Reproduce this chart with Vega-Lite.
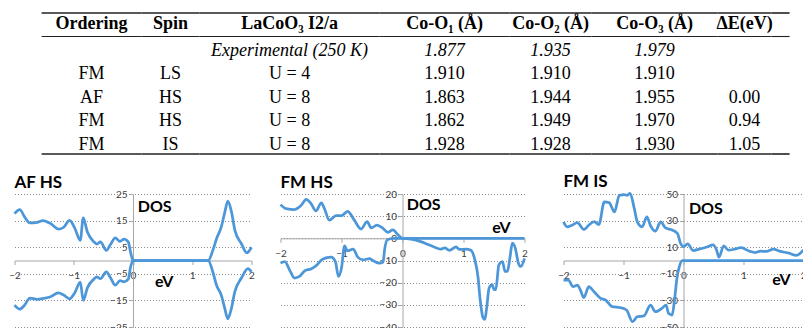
{
  "$schema": "https://vega.github.io/schema/vega-lite/v6.json",
  "padding": {"left": 8.5, "top": 12, "right": 0, "bottom": 0},
  "background": "white",
  "datasets": {
    "table": [
      {"row": "head", "ordering": "Ordering", "spin": "Spin", "method": "LaCoO₃ I2/a", "co1": "Co-O₁ (Å)", "co2": "Co-O₂ (Å)", "co3": "Co-O₃ (Å)", "dE": "ΔE(eV)"},
      {"row": "exp", "ordering": "", "spin": "", "method": "Experimental (250 K)", "co1": "1.877", "co2": "1.935", "co3": "1.979", "dE": ""},
      {"row": "r1", "ordering": "FM", "spin": "LS", "method": "U = 4", "co1": "1.910", "co2": "1.910", "co3": "1.910", "dE": ""},
      {"row": "r2", "ordering": "AF", "spin": "HS", "method": "U = 8", "co1": "1.863", "co2": "1.944", "co3": "1.955", "dE": "0.00"},
      {"row": "r3", "ordering": "FM", "spin": "HS", "method": "U = 8", "co1": "1.862", "co2": "1.949", "co3": "1.970", "dE": "0.94"},
      {"row": "r4", "ordering": "FM", "spin": "IS", "method": "U = 8", "co1": "1.928", "co2": "1.928", "co3": "1.930", "dE": "1.05"}
    ],
    "afhs": [
      {"E": -2, "DOS": 17.6, "spin": "up"}, {"E": -1.91, "DOS": 19.1, "spin": "up"}, {"E": -1.83, "DOS": 16.4, "spin": "up"},
      {"E": -1.74, "DOS": 14.1, "spin": "up"}, {"E": -1.62, "DOS": 14.3, "spin": "up"}, {"E": -1.52, "DOS": 15.0, "spin": "up"},
      {"E": -1.4, "DOS": 14.0, "spin": "up"}, {"E": -1.25, "DOS": 11.8, "spin": "up"}, {"E": -1.17, "DOS": 12.5, "spin": "up"},
      {"E": -1.07, "DOS": 15.1, "spin": "up"}, {"E": -0.98, "DOS": 12.0, "spin": "up"}, {"E": -0.89, "DOS": 7.6, "spin": "up"},
      {"E": -0.84, "DOS": 16.0, "spin": "up"}, {"E": -0.77, "DOS": 10.7, "spin": "up"}, {"E": -0.66, "DOS": 7.0, "spin": "up"},
      {"E": -0.61, "DOS": 6.2, "spin": "up"}, {"E": -0.55, "DOS": 7.0, "spin": "up"}, {"E": -0.45, "DOS": 3.8, "spin": "up"},
      {"E": -0.38, "DOS": 6.0, "spin": "up"}, {"E": -0.3, "DOS": 8.5, "spin": "up"}, {"E": -0.22, "DOS": 7.2, "spin": "up"},
      {"E": -0.15, "DOS": 8.0, "spin": "up"}, {"E": -0.08, "DOS": 7.0, "spin": "up"}, {"E": -0.04, "DOS": 3.0, "spin": "up"},
      {"E": 0, "DOS": 0, "spin": "up"}, {"E": 0.6, "DOS": 0, "spin": "up"}, {"E": 1.27, "DOS": 0, "spin": "up"},
      {"E": 1.35, "DOS": 4.0, "spin": "up"}, {"E": 1.41, "DOS": 8.2, "spin": "up"}, {"E": 1.49, "DOS": 12.6, "spin": "up"},
      {"E": 1.55, "DOS": 18.2, "spin": "up"}, {"E": 1.6, "DOS": 22.3, "spin": "up"}, {"E": 1.66, "DOS": 18.5, "spin": "up"},
      {"E": 1.72, "DOS": 11.3, "spin": "up"}, {"E": 1.83, "DOS": 6.3, "spin": "up"}, {"E": 1.92, "DOS": 2.9, "spin": "up"},
      {"E": 2, "DOS": 5.0, "spin": "up"},
      {"E": -2, "DOS": -16.8, "spin": "down"}, {"E": -1.91, "DOS": -18.3, "spin": "down"}, {"E": -1.83, "DOS": -16.8, "spin": "down"},
      {"E": -1.74, "DOS": -14.1, "spin": "down"}, {"E": -1.62, "DOS": -14.6, "spin": "down"}, {"E": -1.5, "DOS": -14.2, "spin": "down"},
      {"E": -1.4, "DOS": -13.7, "spin": "down"}, {"E": -1.26, "DOS": -12.2, "spin": "down"}, {"E": -1.17, "DOS": -13.0, "spin": "down"},
      {"E": -1.07, "DOS": -14.4, "spin": "down"}, {"E": -0.98, "DOS": -12.0, "spin": "down"}, {"E": -0.89, "DOS": -8.1, "spin": "down"},
      {"E": -0.84, "DOS": -15.0, "spin": "down"}, {"E": -0.77, "DOS": -10.3, "spin": "down"}, {"E": -0.66, "DOS": -7.0, "spin": "down"},
      {"E": -0.61, "DOS": -6.2, "spin": "down"}, {"E": -0.55, "DOS": -6.8, "spin": "down"}, {"E": -0.45, "DOS": -4.3, "spin": "down"},
      {"E": -0.38, "DOS": -6.5, "spin": "down"}, {"E": -0.3, "DOS": -9.3, "spin": "down"}, {"E": -0.22, "DOS": -7.6, "spin": "down"},
      {"E": -0.15, "DOS": -8.0, "spin": "down"}, {"E": -0.08, "DOS": -7.0, "spin": "down"}, {"E": -0.04, "DOS": -2.4, "spin": "down"},
      {"E": 0, "DOS": 0, "spin": "down"}, {"E": 0.6, "DOS": 0, "spin": "down"}, {"E": 1.27, "DOS": 0, "spin": "down"},
      {"E": 1.35, "DOS": -4.5, "spin": "down"}, {"E": 1.41, "DOS": -9.3, "spin": "down"}, {"E": 1.49, "DOS": -13.0, "spin": "down"},
      {"E": 1.55, "DOS": -18.1, "spin": "down"}, {"E": 1.6, "DOS": -21.9, "spin": "down"}, {"E": 1.66, "DOS": -18.1, "spin": "down"},
      {"E": 1.72, "DOS": -11.6, "spin": "down"}, {"E": 1.83, "DOS": -6.6, "spin": "down"}, {"E": 1.94, "DOS": -3.1, "spin": "down"},
      {"E": 2, "DOS": -4.3, "spin": "down"}
    ],
    "fmhs": [
      {"E": -2, "DOS": 15.2, "spin": "up"}, {"E": -1.91, "DOS": 13.4, "spin": "up"}, {"E": -1.77, "DOS": 13.0, "spin": "up"},
      {"E": -1.66, "DOS": 14.9, "spin": "up"}, {"E": -1.58, "DOS": 17.6, "spin": "up"}, {"E": -1.5, "DOS": 15.7, "spin": "up"},
      {"E": -1.42, "DOS": 12.4, "spin": "up"}, {"E": -1.33, "DOS": 16.0, "spin": "up"}, {"E": -1.28, "DOS": 13.4, "spin": "up"},
      {"E": -1.2, "DOS": 8.2, "spin": "up"}, {"E": -1.09, "DOS": 10.2, "spin": "up"}, {"E": -1.0, "DOS": 10.2, "spin": "up"},
      {"E": -0.9, "DOS": 12.2, "spin": "up"}, {"E": -0.79, "DOS": 8.2, "spin": "up"}, {"E": -0.68, "DOS": 4.2, "spin": "up"},
      {"E": -0.58, "DOS": 7.5, "spin": "up"}, {"E": -0.51, "DOS": 4.7, "spin": "up"}, {"E": -0.42, "DOS": 6.0, "spin": "up"},
      {"E": -0.32, "DOS": 4.5, "spin": "up"}, {"E": -0.24, "DOS": 2.7, "spin": "up"}, {"E": -0.16, "DOS": 3.8, "spin": "up"},
      {"E": -0.07, "DOS": 1.5, "spin": "up"}, {"E": 0, "DOS": 0, "spin": "up"}, {"E": 1, "DOS": 0, "spin": "up"},
      {"E": 2, "DOS": 0, "spin": "up"},
      {"E": -2, "DOS": -11.2, "spin": "down"}, {"E": -1.93, "DOS": -10.5, "spin": "down"}, {"E": -1.84, "DOS": -14.9, "spin": "down"},
      {"E": -1.77, "DOS": -17.9, "spin": "down"}, {"E": -1.69, "DOS": -17.2, "spin": "down"}, {"E": -1.6, "DOS": -14.6, "spin": "down"},
      {"E": -1.5, "DOS": -13.8, "spin": "down"}, {"E": -1.42, "DOS": -12.4, "spin": "down"}, {"E": -1.31, "DOS": -9.4, "spin": "down"},
      {"E": -1.17, "DOS": -8.5, "spin": "down"}, {"E": -1.1, "DOS": -10.5, "spin": "down"}, {"E": -1.05, "DOS": -17.2, "spin": "down"},
      {"E": -1.0, "DOS": -13.4, "spin": "down"}, {"E": -0.95, "DOS": -3.4, "spin": "down"}, {"E": -0.9, "DOS": -5.7, "spin": "down"},
      {"E": -0.81, "DOS": -4.9, "spin": "down"}, {"E": -0.73, "DOS": -8.6, "spin": "down"}, {"E": -0.65, "DOS": -9.7, "spin": "down"},
      {"E": -0.54, "DOS": -9.2, "spin": "down"}, {"E": -0.48, "DOS": -10.1, "spin": "down"}, {"E": -0.38, "DOS": -11.2, "spin": "down"},
      {"E": -0.32, "DOS": -10.8, "spin": "down"}, {"E": -0.29, "DOS": -4.5, "spin": "down"}, {"E": -0.25, "DOS": -0.7, "spin": "down"},
      {"E": -0.15, "DOS": 0, "spin": "down"}, {"E": 0, "DOS": 0, "spin": "down"}, {"E": 0.14, "DOS": -0.4, "spin": "down"},
      {"E": 0.3, "DOS": -1.5, "spin": "down"}, {"E": 0.42, "DOS": -2.8, "spin": "down"}, {"E": 0.5, "DOS": -3.7, "spin": "down"},
      {"E": 0.63, "DOS": -4.9, "spin": "down"}, {"E": 0.69, "DOS": -4.3, "spin": "down"}, {"E": 0.77, "DOS": -5.4, "spin": "down"},
      {"E": 0.88, "DOS": -3.9, "spin": "down"}, {"E": 0.93, "DOS": -5.0, "spin": "down"}, {"E": 1.04, "DOS": -4.9, "spin": "down"},
      {"E": 1.12, "DOS": -5.4, "spin": "down"}, {"E": 1.18, "DOS": -9.0, "spin": "down"}, {"E": 1.24, "DOS": -17.9, "spin": "down"},
      {"E": 1.27, "DOS": -26.9, "spin": "down"}, {"E": 1.32, "DOS": -35.8, "spin": "down"}, {"E": 1.35, "DOS": -36.6, "spin": "down"},
      {"E": 1.38, "DOS": -31.3, "spin": "down"}, {"E": 1.42, "DOS": -22.4, "spin": "down"}, {"E": 1.47, "DOS": -20.9, "spin": "down"},
      {"E": 1.5, "DOS": -23.1, "spin": "down"}, {"E": 1.53, "DOS": -23.0, "spin": "down"}, {"E": 1.58, "DOS": -11.9, "spin": "down"},
      {"E": 1.64, "DOS": -10.5, "spin": "down"}, {"E": 1.68, "DOS": -14.9, "spin": "down"}, {"E": 1.72, "DOS": -14.9, "spin": "down"},
      {"E": 1.76, "DOS": -9.0, "spin": "down"}, {"E": 1.8, "DOS": -2.2, "spin": "down"}, {"E": 1.85, "DOS": -4.5, "spin": "down"},
      {"E": 1.9, "DOS": -11.2, "spin": "down"}, {"E": 1.94, "DOS": -12.7, "spin": "down"}, {"E": 2, "DOS": -9.0, "spin": "down"}
    ],
    "fmis": [
      {"E": -2, "DOS": 29, "spin": "up"}, {"E": -1.94, "DOS": 25.3, "spin": "up"}, {"E": -1.86, "DOS": 26.5, "spin": "up"},
      {"E": -1.77, "DOS": 28.5, "spin": "up"}, {"E": -1.66, "DOS": 23.3, "spin": "up"}, {"E": -1.58, "DOS": 26.5, "spin": "up"},
      {"E": -1.49, "DOS": 29.2, "spin": "up"}, {"E": -1.41, "DOS": 27, "spin": "up"}, {"E": -1.32, "DOS": 44, "spin": "up"},
      {"E": -1.24, "DOS": 43.5, "spin": "up"}, {"E": -1.15, "DOS": 36.5, "spin": "up"}, {"E": -1.07, "DOS": 49, "spin": "up"},
      {"E": -0.99, "DOS": 49.5, "spin": "up"}, {"E": -0.94, "DOS": 49, "spin": "up"}, {"E": -0.89, "DOS": 50.5, "spin": "up"},
      {"E": -0.82, "DOS": 39, "spin": "up"}, {"E": -0.77, "DOS": 29, "spin": "up"}, {"E": -0.69, "DOS": 25.3, "spin": "up"},
      {"E": -0.61, "DOS": 32.8, "spin": "up"}, {"E": -0.55, "DOS": 26.2, "spin": "up"}, {"E": -0.47, "DOS": 22, "spin": "up"},
      {"E": -0.38, "DOS": 29, "spin": "up"}, {"E": -0.3, "DOS": 24.5, "spin": "up"}, {"E": -0.19, "DOS": 23, "spin": "up"},
      {"E": -0.1, "DOS": 20.3, "spin": "up"}, {"E": -0.05, "DOS": 13, "spin": "up"}, {"E": 0, "DOS": 10.5, "spin": "up"},
      {"E": 0.07, "DOS": 12.5, "spin": "up"}, {"E": 0.16, "DOS": 7.5, "spin": "up"}, {"E": 0.26, "DOS": 8.5, "spin": "up"},
      {"E": 0.4, "DOS": 10.3, "spin": "up"}, {"E": 0.49, "DOS": 11.8, "spin": "up"}, {"E": 0.55, "DOS": 8, "spin": "up"},
      {"E": 0.59, "DOS": 2.5, "spin": "up"}, {"E": 0.67, "DOS": 11, "spin": "up"}, {"E": 0.75, "DOS": 7.8, "spin": "up"},
      {"E": 0.85, "DOS": 8.5, "spin": "up"}, {"E": 0.96, "DOS": 9.6, "spin": "up"}, {"E": 1.1, "DOS": 7, "spin": "up"},
      {"E": 1.2, "DOS": 6, "spin": "up"}, {"E": 1.28, "DOS": 7, "spin": "up"}, {"E": 1.38, "DOS": 6.8, "spin": "up"},
      {"E": 1.5, "DOS": 8.5, "spin": "up"}, {"E": 1.6, "DOS": 7, "spin": "up"}, {"E": 1.76, "DOS": 5.5, "spin": "up"},
      {"E": 1.88, "DOS": 3.8, "spin": "up"}, {"E": 2, "DOS": 8, "spin": "up"},
      {"E": -2, "DOS": -14.7, "spin": "down"}, {"E": -1.92, "DOS": -14.7, "spin": "down"}, {"E": -1.84, "DOS": -19.7, "spin": "down"},
      {"E": -1.77, "DOS": -18.5, "spin": "down"}, {"E": -1.72, "DOS": -22, "spin": "down"}, {"E": -1.66, "DOS": -28, "spin": "down"},
      {"E": -1.58, "DOS": -19.7, "spin": "down"}, {"E": -1.49, "DOS": -23.5, "spin": "down"}, {"E": -1.38, "DOS": -28.5, "spin": "down"},
      {"E": -1.3, "DOS": -29.7, "spin": "down"}, {"E": -1.19, "DOS": -34.7, "spin": "down"}, {"E": -1.05, "DOS": -35.5, "spin": "down"},
      {"E": -0.95, "DOS": -37.2, "spin": "down"}, {"E": -0.85, "DOS": -46, "spin": "down"}, {"E": -0.77, "DOS": -42.2, "spin": "down"},
      {"E": -0.66, "DOS": -41.7, "spin": "down"}, {"E": -0.55, "DOS": -33.5, "spin": "down"}, {"E": -0.47, "DOS": -38.5, "spin": "down"},
      {"E": -0.36, "DOS": -36, "spin": "down"}, {"E": -0.29, "DOS": -33.5, "spin": "down"}, {"E": -0.25, "DOS": -39.7, "spin": "down"},
      {"E": -0.19, "DOS": -41, "spin": "down"}, {"E": -0.15, "DOS": -29.7, "spin": "down"}, {"E": -0.11, "DOS": -13.5, "spin": "down"},
      {"E": -0.07, "DOS": -4.7, "spin": "down"}, {"E": -0.02, "DOS": 0, "spin": "down"}, {"E": 1, "DOS": 0, "spin": "down"},
      {"E": 2, "DOS": 0, "spin": "down"}
    ]
  },
  "spacing": 17,
  "center": true,
  "vconcat": [
    {
      "bounds": "flush",
      "spacing": 0,
      "hconcat": [
        {
          "width": 100, "height": 141, "data": {"name": "table"},
          "layer": [
            {"transform": [{"filter": "datum.row === 'head'"}], "mark": {"type": "text", "font": "Liberation Serif", "fontSize": 18, "fontWeight": "bold", "color": "#000"},
             "encoding": {"y": {"field": "row", "type": "nominal", "bandPosition": 0.45, "scale": {"type": "band", "domain": ["head", "exp", "r1", "r2", "r3", "r4"], "paddingInner": 0, "paddingOuter": 0}, "axis": null}, "text": {"field": "ordering"}}},
            {"transform": [{"filter": "datum.row !== 'head'"}], "mark": {"type": "text", "font": "Liberation Serif", "fontSize": 18, "color": "#000"},
             "encoding": {"y": {"field": "row", "type": "nominal", "bandPosition": 0.6, "axis": null}, "text": {"field": "ordering"}}},
            {"transform": [{"filter": "datum.row === 'head'"}], "mark": {"type": "rule", "strokeWidth": 1.6, "color": "#222"}, "encoding": {"y": {"field": "row", "type": "nominal", "bandPosition": 0, "axis": null}}},
            {"transform": [{"filter": "datum.row === 'head'"}], "mark": {"type": "rule", "strokeWidth": 1.1, "color": "#222"}, "encoding": {"y": {"field": "row", "type": "nominal", "bandPosition": 1, "axis": null}}},
            {"transform": [{"filter": "datum.row === 'r4'"}], "mark": {"type": "rule", "strokeWidth": 1.6, "color": "#222"}, "encoding": {"y": {"field": "row", "type": "nominal", "bandPosition": 1, "axis": null}}}
          ]
        },
        {
          "width": 58, "height": 141, "data": {"name": "table"},
          "layer": [
            {"transform": [{"filter": "datum.row === 'head'"}], "mark": {"type": "text", "font": "Liberation Serif", "fontSize": 18, "fontWeight": "bold", "color": "#000"},
             "encoding": {"y": {"field": "row", "type": "nominal", "bandPosition": 0.45, "scale": {"type": "band", "domain": ["head", "exp", "r1", "r2", "r3", "r4"], "paddingInner": 0, "paddingOuter": 0}, "axis": null}, "text": {"field": "spin"}}},
            {"transform": [{"filter": "datum.row !== 'head'"}], "mark": {"type": "text", "font": "Liberation Serif", "fontSize": 18, "color": "#000"},
             "encoding": {"y": {"field": "row", "type": "nominal", "bandPosition": 0.6, "axis": null}, "text": {"field": "spin"}}},
            {"transform": [{"filter": "datum.row === 'head'"}], "mark": {"type": "rule", "strokeWidth": 1.6, "color": "#222"}, "encoding": {"y": {"field": "row", "type": "nominal", "bandPosition": 0, "axis": null}}},
            {"transform": [{"filter": "datum.row === 'head'"}], "mark": {"type": "rule", "strokeWidth": 1.1, "color": "#222"}, "encoding": {"y": {"field": "row", "type": "nominal", "bandPosition": 1, "axis": null}}},
            {"transform": [{"filter": "datum.row === 'r4'"}], "mark": {"type": "rule", "strokeWidth": 1.6, "color": "#222"}, "encoding": {"y": {"field": "row", "type": "nominal", "bandPosition": 1, "axis": null}}}
          ]
        },
        {
          "width": 180, "height": 141, "data": {"name": "table"},
          "layer": [
            {"transform": [{"filter": "datum.row === 'head'"}], "mark": {"type": "text", "font": "Liberation Serif", "fontSize": 18, "fontWeight": "bold", "color": "#000"},
             "encoding": {"y": {"field": "row", "type": "nominal", "bandPosition": 0.45, "scale": {"type": "band", "domain": ["head", "exp", "r1", "r2", "r3", "r4"], "paddingInner": 0, "paddingOuter": 0}, "axis": null}, "text": {"field": "method"}}},
            {"transform": [{"filter": "datum.row === 'exp'"}], "mark": {"type": "text", "font": "Liberation Serif", "fontSize": 18, "fontStyle": "italic", "color": "#000"},
             "encoding": {"y": {"field": "row", "type": "nominal", "bandPosition": 0.6, "axis": null}, "text": {"field": "method"}}},
            {"transform": [{"filter": "datum.row !== 'head' && datum.row !== 'exp'"}], "mark": {"type": "text", "font": "Liberation Serif", "fontSize": 18, "color": "#000"},
             "encoding": {"y": {"field": "row", "type": "nominal", "bandPosition": 0.6, "axis": null}, "text": {"field": "method"}}},
            {"transform": [{"filter": "datum.row === 'head'"}], "mark": {"type": "rule", "strokeWidth": 1.6, "color": "#222"}, "encoding": {"y": {"field": "row", "type": "nominal", "bandPosition": 0, "axis": null}}},
            {"transform": [{"filter": "datum.row === 'head'"}], "mark": {"type": "rule", "strokeWidth": 1.1, "color": "#222"}, "encoding": {"y": {"field": "row", "type": "nominal", "bandPosition": 1, "axis": null}}},
            {"transform": [{"filter": "datum.row === 'r4'"}], "mark": {"type": "rule", "strokeWidth": 1.6, "color": "#222"}, "encoding": {"y": {"field": "row", "type": "nominal", "bandPosition": 1, "axis": null}}}
          ]
        },
        {
          "width": 130, "height": 141, "data": {"name": "table"},
          "layer": [
            {"transform": [{"filter": "datum.row === 'head'"}], "mark": {"type": "text", "font": "Liberation Serif", "fontSize": 18, "fontWeight": "bold", "color": "#000"},
             "encoding": {"y": {"field": "row", "type": "nominal", "bandPosition": 0.45, "scale": {"type": "band", "domain": ["head", "exp", "r1", "r2", "r3", "r4"], "paddingInner": 0, "paddingOuter": 0}, "axis": null}, "text": {"field": "co1"}}},
            {"transform": [{"filter": "datum.row === 'exp'"}], "mark": {"type": "text", "font": "Liberation Serif", "fontSize": 18, "fontStyle": "italic", "color": "#000"},
             "encoding": {"y": {"field": "row", "type": "nominal", "bandPosition": 0.6, "axis": null}, "text": {"field": "co1"}}},
            {"transform": [{"filter": "datum.row !== 'head' && datum.row !== 'exp'"}], "mark": {"type": "text", "font": "Liberation Serif", "fontSize": 18, "color": "#000"},
             "encoding": {"y": {"field": "row", "type": "nominal", "bandPosition": 0.6, "axis": null}, "text": {"field": "co1"}}},
            {"transform": [{"filter": "datum.row === 'head'"}], "mark": {"type": "rule", "strokeWidth": 1.6, "color": "#222"}, "encoding": {"y": {"field": "row", "type": "nominal", "bandPosition": 0, "axis": null}}},
            {"transform": [{"filter": "datum.row === 'head'"}], "mark": {"type": "rule", "strokeWidth": 1.1, "color": "#222"}, "encoding": {"y": {"field": "row", "type": "nominal", "bandPosition": 1, "axis": null}}},
            {"transform": [{"filter": "datum.row === 'r4'"}], "mark": {"type": "rule", "strokeWidth": 1.6, "color": "#222"}, "encoding": {"y": {"field": "row", "type": "nominal", "bandPosition": 1, "axis": null}}}
          ]
        },
        {
          "width": 82, "height": 141, "data": {"name": "table"},
          "layer": [
            {"transform": [{"filter": "datum.row === 'head'"}], "mark": {"type": "text", "font": "Liberation Serif", "fontSize": 18, "fontWeight": "bold", "color": "#000"},
             "encoding": {"y": {"field": "row", "type": "nominal", "bandPosition": 0.45, "scale": {"type": "band", "domain": ["head", "exp", "r1", "r2", "r3", "r4"], "paddingInner": 0, "paddingOuter": 0}, "axis": null}, "text": {"field": "co2"}}},
            {"transform": [{"filter": "datum.row === 'exp'"}], "mark": {"type": "text", "font": "Liberation Serif", "fontSize": 18, "fontStyle": "italic", "color": "#000"},
             "encoding": {"y": {"field": "row", "type": "nominal", "bandPosition": 0.6, "axis": null}, "text": {"field": "co2"}}},
            {"transform": [{"filter": "datum.row !== 'head' && datum.row !== 'exp'"}], "mark": {"type": "text", "font": "Liberation Serif", "fontSize": 18, "color": "#000"},
             "encoding": {"y": {"field": "row", "type": "nominal", "bandPosition": 0.6, "axis": null}, "text": {"field": "co2"}}},
            {"transform": [{"filter": "datum.row === 'head'"}], "mark": {"type": "rule", "strokeWidth": 1.6, "color": "#222"}, "encoding": {"y": {"field": "row", "type": "nominal", "bandPosition": 0, "axis": null}}},
            {"transform": [{"filter": "datum.row === 'head'"}], "mark": {"type": "rule", "strokeWidth": 1.1, "color": "#222"}, "encoding": {"y": {"field": "row", "type": "nominal", "bandPosition": 1, "axis": null}}},
            {"transform": [{"filter": "datum.row === 'r4'"}], "mark": {"type": "rule", "strokeWidth": 1.6, "color": "#222"}, "encoding": {"y": {"field": "row", "type": "nominal", "bandPosition": 1, "axis": null}}}
          ]
        },
        {
          "width": 126, "height": 141, "data": {"name": "table"},
          "layer": [
            {"transform": [{"filter": "datum.row === 'head'"}], "mark": {"type": "text", "font": "Liberation Serif", "fontSize": 18, "fontWeight": "bold", "color": "#000"},
             "encoding": {"y": {"field": "row", "type": "nominal", "bandPosition": 0.45, "scale": {"type": "band", "domain": ["head", "exp", "r1", "r2", "r3", "r4"], "paddingInner": 0, "paddingOuter": 0}, "axis": null}, "text": {"field": "co3"}}},
            {"transform": [{"filter": "datum.row === 'exp'"}], "mark": {"type": "text", "font": "Liberation Serif", "fontSize": 18, "fontStyle": "italic", "color": "#000"},
             "encoding": {"y": {"field": "row", "type": "nominal", "bandPosition": 0.6, "axis": null}, "text": {"field": "co3"}}},
            {"transform": [{"filter": "datum.row !== 'head' && datum.row !== 'exp'"}], "mark": {"type": "text", "font": "Liberation Serif", "fontSize": 18, "color": "#000"},
             "encoding": {"y": {"field": "row", "type": "nominal", "bandPosition": 0.6, "axis": null}, "text": {"field": "co3"}}},
            {"transform": [{"filter": "datum.row === 'head'"}], "mark": {"type": "rule", "strokeWidth": 1.6, "color": "#222"}, "encoding": {"y": {"field": "row", "type": "nominal", "bandPosition": 0, "axis": null}}},
            {"transform": [{"filter": "datum.row === 'head'"}], "mark": {"type": "rule", "strokeWidth": 1.1, "color": "#222"}, "encoding": {"y": {"field": "row", "type": "nominal", "bandPosition": 1, "axis": null}}},
            {"transform": [{"filter": "datum.row === 'r4'"}], "mark": {"type": "rule", "strokeWidth": 1.6, "color": "#222"}, "encoding": {"y": {"field": "row", "type": "nominal", "bandPosition": 1, "axis": null}}}
          ]
        },
        {
          "width": 54, "height": 141, "data": {"name": "table"},
          "layer": [
            {"transform": [{"filter": "datum.row === 'head'"}], "mark": {"type": "text", "font": "Liberation Serif", "fontSize": 18, "fontWeight": "bold", "color": "#000"},
             "encoding": {"y": {"field": "row", "type": "nominal", "bandPosition": 0.45, "scale": {"type": "band", "domain": ["head", "exp", "r1", "r2", "r3", "r4"], "paddingInner": 0, "paddingOuter": 0}, "axis": null}, "text": {"field": "dE"}}},
            {"transform": [{"filter": "datum.row !== 'head'"}], "mark": {"type": "text", "font": "Liberation Serif", "fontSize": 18, "color": "#000"},
             "encoding": {"y": {"field": "row", "type": "nominal", "bandPosition": 0.6, "axis": null}, "text": {"field": "dE"}}},
            {"transform": [{"filter": "datum.row === 'head'"}], "mark": {"type": "rule", "strokeWidth": 1.6, "color": "#222"}, "encoding": {"y": {"field": "row", "type": "nominal", "bandPosition": 0, "axis": null}}},
            {"transform": [{"filter": "datum.row === 'head'"}], "mark": {"type": "rule", "strokeWidth": 1.1, "color": "#222"}, "encoding": {"y": {"field": "row", "type": "nominal", "bandPosition": 1, "axis": null}}},
            {"transform": [{"filter": "datum.row === 'r4'"}], "mark": {"type": "rule", "strokeWidth": 1.6, "color": "#222"}, "encoding": {"y": {"field": "row", "type": "nominal", "bandPosition": 1, "axis": null}}}
          ]
        },
        {
          "width": 18, "height": 141, "data": {"name": "table"},
          "layer": [
            {"transform": [{"filter": "datum.row === 'head'"}], "mark": {"type": "rule", "strokeWidth": 1.6, "color": "#222"}, "encoding": {"y": {"field": "row", "type": "nominal", "bandPosition": 0, "scale": {"type": "band", "domain": ["head", "exp", "r1", "r2", "r3", "r4"], "paddingInner": 0, "paddingOuter": 0}, "axis": null}}},
            {"transform": [{"filter": "datum.row === 'head'"}], "mark": {"type": "rule", "strokeWidth": 1.1, "color": "#222"}, "encoding": {"y": {"field": "row", "type": "nominal", "bandPosition": 1, "axis": null}}},
            {"transform": [{"filter": "datum.row === 'r4'"}], "mark": {"type": "rule", "strokeWidth": 1.6, "color": "#222"}, "encoding": {"y": {"field": "row", "type": "nominal", "bandPosition": 1, "axis": null}}}
          ]
        }
      ]
    },
    {
      "spacing": 27,
      "hconcat": [
        {
          "bounds": "flush",
          "spacing": 29,
          "hconcat": [
            {
              "width": 237, "height": 133,
              "title": {"text": "AF HS"},
              "layer": [
                {"data": {"name": "afhs"},
                 "mark": {"type": "line", "interpolate": "monotone", "color": "#4d97d9", "strokeWidth": 2.75},
                 "encoding": {
                   "x": {"field": "E", "type": "quantitative", "scale": {"domain": [-2, 2], "nice": false, "zero": false},
                         "axis": {"values": [-2, -1, 0, 1, 2], "format": "d", "offset": -66.5, "grid": false, "title": null, "labelFlush": false, "labelOverlap": false, "labelPadding": 6, "tickCount": 20}},
                   "y": {"field": "DOS", "type": "quantitative", "scale": {"domain": [-25, 25], "nice": false},
                         "axis": {"values": [-25, -15, -5, 5, 15, 25], "format": "d", "offset": -118.5, "grid": true, "title": null, "labelOverlap": false, "tickCount": 20}},
                   "detail": {"field": "spin"}
                 }},
                {"data": {"values": [{}]}, "mark": {"type": "text", "text": "DOS", "font": "Lato", "fontSize": 16, "fontWeight": "bold", "align": "left", "baseline": "middle", "color": "#000"},
                 "encoding": {"x": {"datum": 0.08}, "y": {"datum": 20}}},
                {"data": {"values": [{}]}, "mark": {"type": "text", "text": "eV", "font": "Lato", "fontSize": 16, "fontWeight": "bold", "align": "left", "baseline": "middle", "color": "#000"},
                 "encoding": {"x": {"datum": 0.37}, "y": {"datum": -8.1}}}
              ]
            },
            {
              "width": 244, "height": 133,
              "title": {"text": "FM HS"},
              "layer": [
                {"data": {"name": "fmhs"},
                 "mark": {"type": "line", "interpolate": "monotone", "color": "#4d97d9", "strokeWidth": 2.75},
                 "encoding": {
                   "x": {"field": "E", "type": "quantitative", "scale": {"domain": [-2, 2], "nice": false, "zero": false},
                         "axis": {"values": [-2, -1, 0, 1, 2], "format": "d", "offset": -88.67, "grid": false, "title": null, "labelFlush": false, "labelOverlap": false, "labelPadding": 6, "tickCount": 20}},
                   "y": {"field": "DOS", "type": "quantitative", "scale": {"domain": [-40, 20], "nice": false},
                         "axis": {"values": [-40, -30, -20, -10, 0, 10, 20], "format": "d", "offset": -122, "grid": true, "title": null, "labelOverlap": false, "tickCount": 20}},
                   "detail": {"field": "spin"}
                 }},
                {"data": {"values": [{}]}, "mark": {"type": "text", "text": "DOS", "font": "Lato", "fontSize": 16, "fontWeight": "bold", "align": "left", "baseline": "middle", "color": "#000"},
                 "encoding": {"x": {"datum": 0.07}, "y": {"datum": 15.2}}},
                {"data": {"values": [{}]}, "mark": {"type": "text", "text": "eV", "font": "Lato", "fontSize": 16, "fontWeight": "bold", "align": "left", "baseline": "middle", "color": "#000"},
                 "encoding": {"x": {"datum": 1.47}, "y": {"datum": 4.8}}}
              ]
            }
          ]
        },
        {
          "width": 254, "height": 133,
          "title": {"text": "FM IS"},
          "layer": [
            {"data": {"name": "fmis"},
             "mark": {"type": "line", "interpolate": "monotone", "color": "#4d97d9", "strokeWidth": 2.75},
             "encoding": {
               "x": {"field": "E", "type": "quantitative", "scale": {"domain": [-2, 2.2333], "nice": false, "zero": false},
                     "axis": {"values": [-2, -1, 0, 1, 2], "format": "d", "offset": -66.5, "grid": false, "title": null, "labelFlush": false, "labelOverlap": false, "labelPadding": 6, "tickCount": 20}},
               "y": {"field": "DOS", "type": "quantitative", "scale": {"domain": [-50, 50], "nice": false},
                     "axis": {"values": [-50, -30, -10, 10, 30, 50], "format": "d", "offset": -120, "grid": true, "title": null, "labelOverlap": false, "tickCount": 20}},
               "detail": {"field": "spin"}
             }},
            {"data": {"values": [{}]}, "mark": {"type": "text", "text": "DOS", "font": "Lato", "fontSize": 16, "fontWeight": "bold", "align": "left", "baseline": "middle", "color": "#000"},
             "encoding": {"x": {"datum": 0.09}, "y": {"datum": 39}}},
            {"data": {"values": [{}]}, "mark": {"type": "text", "text": "eV", "font": "Lato", "fontSize": 16, "fontWeight": "bold", "align": "left", "baseline": "middle", "color": "#000"},
             "encoding": {"x": {"datum": 1.48}, "y": {"datum": -14.7}}}
          ]
        }
      ]
    }
  ],
  "config": {
    "view": {"stroke": null},
    "axis": {
      "labelFont": "Lato", "labelFontSize": 10, "labelColor": "#404040", "labelOverlap": false, "format": "d",
      "domainColor": "#a6a6a6", "domainWidth": 1, "tickColor": "#a6a6a6", "tickSize": 4,
      "gridColor": "#8c8c8c", "gridDash": [1, 2], "gridWidth": 1
    },
    "title": {"anchor": "start", "frame": "group", "font": "Lato", "fontSize": 17, "fontWeight": "bold", "color": "#000", "offset": -3}
  }
}
